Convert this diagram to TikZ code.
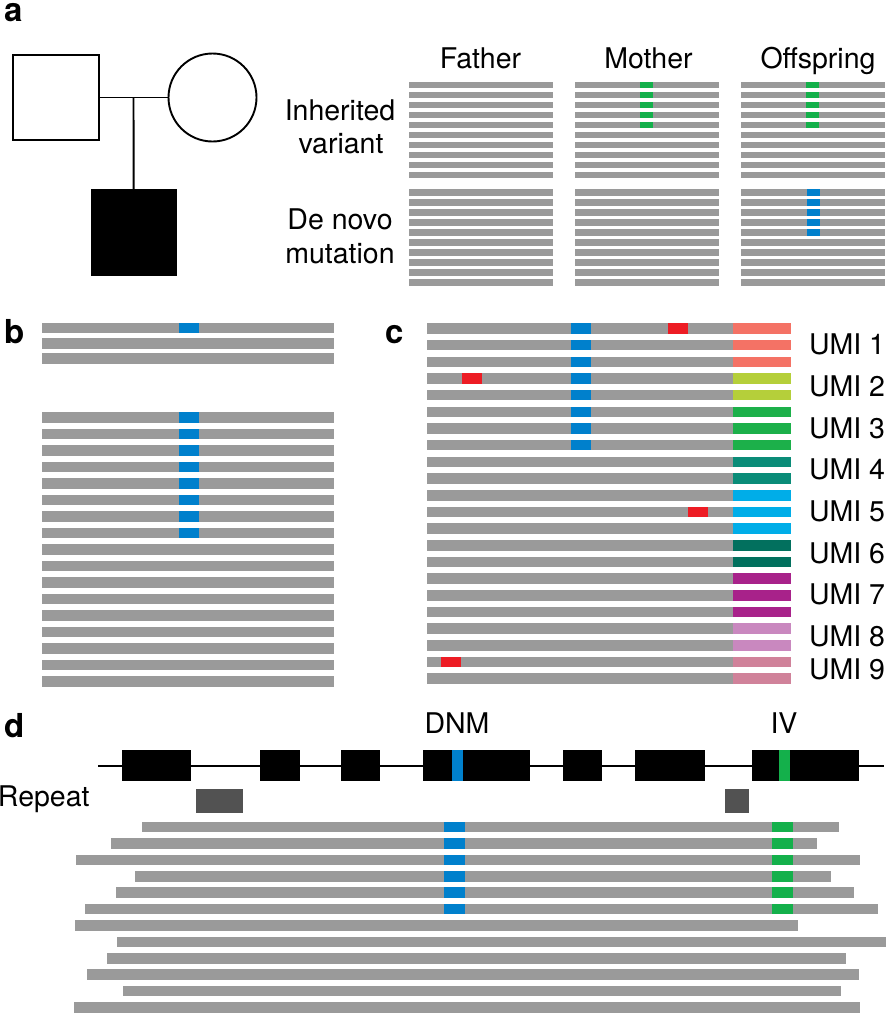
\documentclass[tikz,border=0pt]{standalone}
\usepackage{fontspec}
\setmainfont{TeX Gyre Heros}
\definecolor{readgray}{RGB}{154,154,154}
\definecolor{dnmblue}{RGB}{0,128,204}
\definecolor{ivgreen}{RGB}{20,176,75}
\definecolor{errred}{RGB}{237,28,36}
\definecolor{repgray}{RGB}{82,82,82}
\definecolor{umiA}{RGB}{244,114,101}
\definecolor{umiB}{RGB}{181,207,58}
\definecolor{umiC}{RGB}{28,176,74}
\definecolor{umiD}{RGB}{10,140,120}
\definecolor{umiE}{RGB}{0,173,232}
\definecolor{umiF}{RGB}{2,112,94}
\definecolor{umiG}{RGB}{168,34,138}
\definecolor{umiH}{RGB}{201,136,191}
\definecolor{umiI}{RGB}{208,130,154}
\tikzset{
  lab/.style={font=\fontsize{28.5}{33.5}\selectfont, inner sep=0pt, outer sep=0pt},
  panel/.style={font=\fontsize{33}{33}\selectfont\bfseries, inner sep=0pt, anchor=base west},
  ped/.style={draw=black, line width=1.9pt, inner sep=0pt, outer sep=0pt},
  link/.style={line width=1.9pt},
}
\begin{document}
\begin{tikzpicture}[x=1pt,y=-1pt]
\useasboundingbox (0,0) rectangle (886,1013);

% ---------- panel labels
\node[panel] (la) at (4,21) {a};
\node[panel] (lb) at (4,343) {b};
\node[panel] (lc) at (385,343) {c};
\node[panel] (ld) at (4,737) {d};

% ---------- panel a: pedigree
\node[ped, rectangle, minimum width=85.7pt, minimum height=85pt] (father) at (56.2,97.5) {};
\node[ped, circle, minimum size=88pt] (mother) at (212.5,97.5) {};
\node[ped, rectangle, fill=black, minimum width=84pt, minimum height=85pt] (child) at (133.7,232.5) {};
\coordinate (mate) at (133.5,97.5);
\draw[link] (father.east) -- (mother.west);
\draw[link] (mate) -- (child.north);

% ---------- panel a: labels
\node[lab, anchor=base] (tfa) at (480.5,68.3) {Father};
\node[lab, anchor=base] (tmo) at (648.5,68.3) {Mother};
\node[lab, anchor=base] (tof) at (818,68.3) {Offspring};
\node[lab, anchor=base] (tin) at (340,120) {Inherited};
\node[lab, anchor=base] (tva) at (341,153.3) {variant};
\node[lab, anchor=base] (tde) at (340,229) {De novo};
\node[lab, anchor=base] (tmu) at (340,263) {mutation};

% ---------- panel a: reads
\foreach \x in {409,575,741}{
  \foreach \k in {0,...,9}{
    \fill[readgray] (\x,{81.7+10*\k}) rectangle ++(144,6.7);
    \fill[readgray] (\x,{189.3+10*\k}) rectangle ++(144,6.7);
  }
}
\foreach \k in {0,...,4}{
  \fill[ivgreen] (640,{81.7+10*\k}) rectangle ++(13,6.7);
  \fill[ivgreen] (806,{81.7+10*\k}) rectangle ++(13,6.7);
  \fill[dnmblue] (807,{189.3+10*\k}) rectangle ++(13,6.7);
}

% ---------- panel b
\foreach \k in {0,1,2}{
  \fill[readgray] (42,{322.7+15.3*\k}) rectangle ++(292,10.7);
}
\fill[dnmblue] (179,322.7) rectangle ++(20,10.7);
\foreach \k in {0,...,16}{
  \fill[readgray] (42,{412+16.5*\k}) rectangle ++(292,10.7);
}
\foreach \k in {0,...,7}{
  \fill[dnmblue] (179,{412+16.5*\k}) rectangle ++(20,10.7);
}

% ---------- panel c
\foreach \k/\c in {0/umiA,1/umiA,2/umiA,3/umiB,4/umiB,5/umiC,6/umiC,7/umiC,8/umiD,9/umiD,10/umiE,11/umiE,12/umiE,13/umiF,14/umiF,15/umiG,16/umiG,17/umiG,18/umiH,19/umiH,20/umiI,21/umiI}{
  \fill[readgray] (427,{323.3+16.67*\k}) rectangle ++(306,10.5);
  \fill[\c] (733,{323.3+16.67*\k}) rectangle ++(58,10.5);
}
\foreach \k in {0,...,7}{
  \fill[dnmblue] (571,{323.3+16.67*\k}) rectangle ++(20,10.5);
}
\fill[errred] (668,323.3) rectangle ++(20,10.5);
\fill[errred] (462,{323.3+16.67*3}) rectangle ++(20,10.5);
\fill[errred] (688,{323.3+16.67*11}) rectangle ++(20,10.5);
\fill[errred] (441,{323.3+16.67*20}) rectangle ++(20,10.5);
\foreach \i/\m [count=\n] in {1/1,3.5/2,6/3,8.5/4,11/5,13.5/6,16/7,18.5/8,20.5/9}{
  \node[lab, anchor=west] (umi\n) at (809,{328+16.67*\i}) {UMI \m};
}

% ---------- panel d
\node[lab, anchor=base] (tdnm) at (457,733) {DNM};
\node[lab, anchor=base] (tiv) at (784,733) {IV};
\node[lab, anchor=base west] (trep) at (-2,806) {Repeat};
\coordinate (gs) at (98,765.7);
\coordinate (ge) at (884,765.7);
\draw[line width=1.7pt] (gs) -- (ge);
\foreach \a/\b in {122/191,260/300,341/380,423/530,563/602,635/705,752/859}{
  \fill[black] (\a,750.3) rectangle (\b,781);
}
\fill[dnmblue] (452,750.3) rectangle (463,781);
\fill[ivgreen] (779,750.3) rectangle (790,781);
\fill[repgray] (196,789) rectangle (243,813);
\fill[repgray] (725,789) rectangle (749,813);
\foreach \l/\r [count=\n from 0] in {142/839,111/817,76/860,135/831,116/854,85/878,75/798,117/886,107/846,87/859,123/841,74/860}{
  \fill[readgray] (\l,{821.7+16.4*\n}) rectangle (\r,{832.4+16.4*\n});
}
\foreach \n in {0,...,5}{
  \fill[dnmblue] (444,{821.7+16.4*\n}) rectangle (465,{832.4+16.4*\n});
  \fill[ivgreen] (772,{821.7+16.4*\n}) rectangle (793,{832.4+16.4*\n});
}
\end{tikzpicture}
\end{document}
